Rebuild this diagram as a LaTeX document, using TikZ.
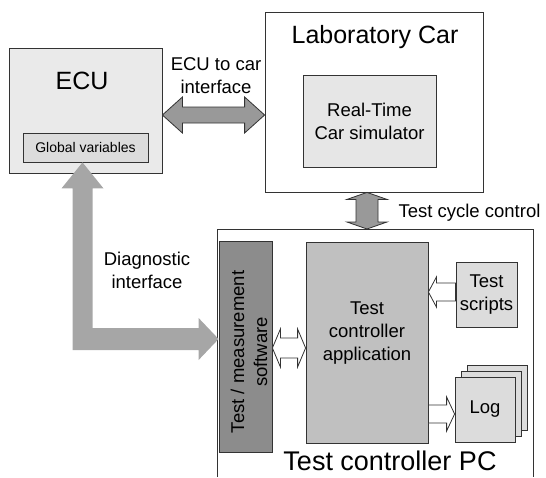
\documentclass[tikz,border=0pt]{standalone}
\usepackage{fontspec}
\setmainfont{Liberation Sans}
\usepackage{tikz}
\usetikzlibrary{calc}

\definecolor{ecufill}{HTML}{EAEAEA}
\definecolor{varfill}{HTML}{DCDCDC}
\definecolor{simfill}{HTML}{E6E6E6}
\definecolor{appfill}{HTML}{C0C0C0}
\definecolor{swfill}{HTML}{8C8C8C}
\definecolor{arrowgray}{HTML}{999999}
\definecolor{diaggray}{HTML}{A6A6A6}

\begin{document}
\begin{tikzpicture}[x=1pt,y=-1pt,
    box/.style={draw=black!80, line width=0.8pt, inner sep=0pt, align=center},
    bigtext/.style={font=\fontsize{25}{30}\selectfont},
    midtext/.style={font=\fontsize{18.5}{23}\selectfont, align=center},
    smalltext/.style={font=\fontsize{14}{17}\selectfont},
    fatarrow/.style={draw=black!80, line width=0.8pt, fill=arrowgray},
    hollowarrow/.style={draw=black!80, line width=0.8pt, fill=white},
    diagarrow/.style={fill=diaggray}]

  \useasboundingbox (0,0) rectangle (546,477);

  % ECU
  \node[box, fill=ecufill, minimum width=153pt, minimum height=125pt] (ecu) at (85.5,110.5) {};
  \node[bigtext] (ecutext) at (82,81) {ECU};
  \node[box, fill=varfill, minimum width=125pt, minimum height=29pt, smalltext] (globvar) at (85.5,147.5) {Global variables};

  % laboratory car
  \node[box, fill=white, minimum width=218pt, minimum height=180pt] (labcar) at (374,102) {};
  \node[bigtext] (labtext) at (375,37) {Laboratory Car};
  \node[box, fill=simfill, minimum width=133pt, minimum height=92pt, midtext] (rtsim) at (369.5,121) {Real-Time\\Car simulator};

  % test controller PC, cut off at the bottom
  \coordinate (pcbl) at (217,477);
  \coordinate (pctl) at (217,229);
  \coordinate (pctr) at (533,229);
  \coordinate (pcbr) at (533,477);
  \draw[draw=black!80, line width=0.8pt] (pcbl) -- (pctl) -- (pctr) -- (pcbr);
  \node[bigtext, font=\fontsize{27}{32}\selectfont] (pctext) at (390,461) {Test controller PC};

  \node[box, fill=swfill, minimum width=53pt, minimum height=211pt] (tms) at (245.5,346.5) {};
  \node[midtext, rotate=90] (tmstext) at (249,352) {Test / measurement\\software};
  \node[box, fill=appfill, minimum width=122pt, minimum height=201pt] (app) at (367,342.5) {};
  \node[midtext] (apptext) at (367,333) {Test\\controller\\application};
  \node[box, fill=varfill, minimum width=61pt, minimum height=65pt, midtext] (scripts) at (486.5,294.5) {Test\\scripts};
  \node[box, fill=varfill, minimum width=60pt, minimum height=65pt] (log3) at (497,397.5) {};
  \node[box, fill=varfill, minimum width=60pt, minimum height=65pt] (log2) at (491,403.5) {};
  \node[box, fill=varfill, minimum width=60pt, minimum height=65pt, midtext] (log) at (485,409.5) {Log};

  % ECU <-> laboratory car
  \coordinate (carL) at (ecu.east |- 0,115);
  \coordinate (carR) at (labcar.west |- 0,115);
  \path[fatarrow] (carL) -- ++(20,-18) -- ++(0,10) -- ($(carR)+(-20,-8)$) -- ++(0,-10) -- (carR)
    -- ++(-20,18) -- ++(0,-10) -- ($(carL)+(20,8)$) -- ++(0,10) -- cycle;
  \node[midtext] (ecucartext) at (216,76) {ECU to car\\interface};

  % laboratory car <-> PC
  \coordinate (cycT) at (labcar.south -| 367,0);
  \coordinate (cycB) at (pctr -| 367,0);
  \path[fatarrow] (cycT) -- ++(20,7) -- ++(-9,0) -- ($(cycB)+(11,-7)$) -- ++(9,0) -- (cycB)
    -- ++(-20,-7) -- ++(9,0) -- ($(cycT)+(-11,7)$) -- ++(-9,0) -- cycle;
  \node[midtext, anchor=west] (cyctext) at (395,213) {Test cycle control};

  % software <-> application
  \coordinate (swL) at (tms.east |- 0,348);
  \coordinate (swR) at (app.west |- 0,348);
  \path[hollowarrow] (swL) -- ++(8,-19) -- ++(0,9) -- ($(swR)+(-8,-10)$) -- ++(0,-9) -- (swR)
    -- ++(-8,19) -- ++(0,-9) -- ($(swL)+(8,10)$) -- ++(0,9) -- cycle;

  % scripts -> application
  \coordinate (scrTip) at (app.east |- 0,292);
  \coordinate (scrEnd) at (scripts.west |- 0,292);
  \path[hollowarrow] (scrTip) -- ++(8,-15) -- ++(0,6) -- ($(scrEnd)+(0,-9)$) -- ($(scrEnd)+(0,9)$)
    -- ($(scrTip)+(8,9)$) -- ++(0,6) -- cycle;

  % application -> log
  \coordinate (logStart) at (app.east |- 0,414);
  \coordinate (logTip) at (log.west |- 0,414);
  \path[hollowarrow] (logStart) -- ++(0,-9) -- ($(logTip)+(-8,-9)$) -- ++(0,-8) -- (logTip)
    -- ++(-8,17) -- ++(0,-8) -- ($(logStart)+(0,9)$) -- cycle;

  % diagnostic interface
  \coordinate (diagT) at ($(globvar.south)+(-3,0)$);
  \coordinate (diagE) at (tms.west |- 0,339);
  \path[diagarrow] (diagT) -- ++(21,26) -- ++(-11,0) -- ($(diagT |- diagE)+(10,-11)$)
    -- ($(diagE)+(-20,-11)$) -- ++(0,-10) -- (diagE) -- ++(-20,21) -- ++(0,-10)
    -- ($(diagT |- diagE)+(-10,11)$) -- ($(diagT)+(-10,26)$) -- ++(-11,0) -- cycle;
  \node[midtext] (diagtext) at (147,270) {Diagnostic\\interface};

\end{tikzpicture}
\end{document}
